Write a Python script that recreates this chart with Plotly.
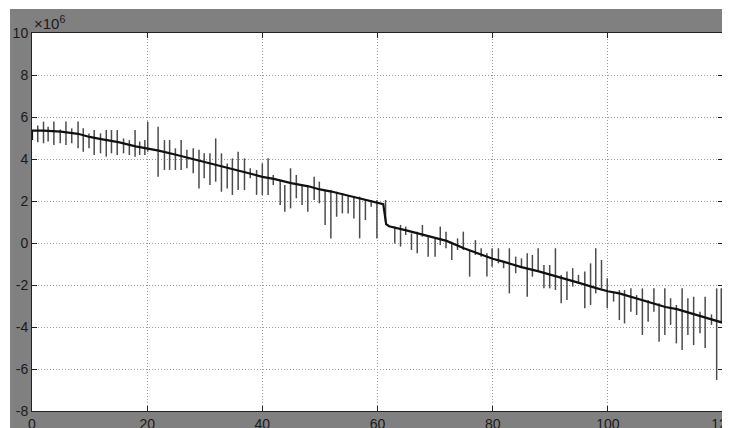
import plotly.graph_objects as go

# ---- data (values in units of 10^6) ----
trend_x = [0, 0, 2, 5, 8, 10, 12, 15, 18, 20, 22, 25, 28, 30, 32, 35, 38, 40, 42, 45, 48, 50,
           52, 55, 58, 60, 61, 61.5, 62, 65, 68, 70, 72, 75, 78, 80, 82, 85, 88, 90, 92, 95,
           98, 100, 102, 105, 108, 110, 112, 115, 118, 120]
trend_y = [4.9, 5.35, 5.35, 5.3, 5.2, 5.05, 4.95, 4.8, 4.6, 4.5, 4.4, 4.2, 4.0, 3.85, 3.7, 3.5,
           3.3, 3.15, 3.05, 2.85, 2.7, 2.55, 2.45, 2.25, 2.05, 1.95, 1.85, 0.9, 0.8, 0.6, 0.4,
           0.25, 0.1, -0.25, -0.55, -0.75, -0.9, -1.15, -1.35, -1.5, -1.65, -1.9, -2.15, -2.3,
           -2.4, -2.65, -2.9, -3.05, -3.15, -3.4, -3.65, -3.8]

spike_x = [1.0, 2.0, 2.8, 3.8, 4.9, 5.9, 6.9, 8.0, 8.9, 9.9, 10.8, 11.9, 12.9, 13.8, 14.8, 15.9,
           16.9, 17.9, 18.7, 19.6,
           20.1, 21.9, 23.0, 23.9, 24.9, 25.9, 26.9, 28.0, 29.0, 29.9, 30.9, 31.9, 32.9, 33.9,
           34.8, 35.8, 36.9, 37.9, 39.0, 40.0,
           41.0, 41.9, 43.1, 43.9, 44.9, 45.9, 46.9, 47.9, 49.0, 49.9, 50.9, 51.9, 52.9, 53.9,
           54.9, 55.9, 56.9, 57.9, 58.9, 59.9, 61.4,
           63.0, 64.0, 64.9, 65.9, 66.9, 67.8, 68.8, 70.0, 70.9, 71.9, 72.9, 73.9, 74.9, 76.0,
           77.0, 78.0, 79.0, 79.9,
           81.0, 81.9, 82.9, 84.0, 85.0, 86.0, 86.9, 87.9, 88.9, 89.9, 90.9, 91.9, 92.9, 93.9,
           94.9, 96.0, 97.0, 97.9, 98.9, 99.9,
           101.0, 102.0, 102.9, 104.0, 105.0, 106.0, 107.0, 108.0, 108.9, 109.9, 110.9, 111.9,
           112.9, 113.9, 114.9, 116.0, 116.9, 118.0, 118.9, 119.7]
spike_hi = [5.6, 5.78, 5.54, 5.78, 5.4, 5.78, 5.46, 5.78, 5.46, 5.22, 5.38, 5.22, 5.38, 5.38,
            5.38, 4.98, 4.9, 5.38, 4.83, 4.9,
            5.78, 5.54, 4.9, 4.9, 4.51, 4.9, 4.44, 4.51, 4.44, 4.27, 4.27, 4.98, 4.27, 3.79,
            4.03, 4.35, 4.03, 3.56, 3.48, 3.79,
            4.03, 3.24, 3.0, 2.76, 3.56, 3.24, 2.76, 2.76, 3.16, 2.92, 2.52, 2.52, 2.44, 2.37,
            2.29, 2.21, 2.21, 2.05, 2.05, 2.05, 2.05,
            0.78, 0.86, 0.78, 0.46, 0.54, 0.86, 0.3, 0.22, 0.78, 0.54, 0.06, 0.22, 0.54, -0.33,
            0.14, -0.25, -0.49, -0.25,
            -0.25, -0.89, -0.25, -0.65, -0.73, -0.49, -0.57, -0.25, -1.05, -1.05, -0.25, -1.52,
            -1.36, -1.2, -1.52, -1.36, -0.97, -0.25, -0.81, -1.68,
            -2.32, -2.24, -2.24, -2.16, -2.48, -2.16, -2.71, -2.16, -2.87, -2.16, -2.63, -2.95,
            -2.16, -2.63, -2.56, -3.27, -2.56, -3.4, -2.16, -2.16]
spike_lo = [4.8, 4.75, 4.83, 4.67, 4.75, 4.67, 4.75, 4.51, 4.35, 4.51, 4.19, 4.27, 4.11, 4.27,
            4.19, 4.27, 4.19, 4.11, 4.19, 4.19,
            4.35, 3.16, 3.48, 3.48, 3.48, 3.48, 3.56, 3.32, 2.6, 3.08, 2.76, 2.92, 2.44, 2.6,
            2.29, 2.52, 2.52, 3.08, 2.29, 2.29,
            2.29, 2.76, 1.81, 1.49, 1.65, 2.13, 1.81, 1.49, 2.05, 1.89, 0.86, 0.22, 1.25, 1.41,
            1.41, 1.17, 0.22, 1.09, 1.73, 0.22, 1.01,
            -0.02, -0.17, 0.38, -0.33, -0.49, 0.3, -0.65, -0.65, -0.1, -0.25, -0.81, -0.33,
            -0.33, -1.6, -0.57, -0.65, -1.6, -1.13,
            -0.97, -1.2, -2.4, -1.44, -1.2, -2.56, -1.6, -1.36, -2.16, -2.16, -2.24, -2.87,
            -2.71, -2.08, -1.92, -3.11, -2.95, -2.4, -2.16, -3.11,
            -2.79, -3.67, -3.83, -3.27, -3.43, -4.38, -3.75, -3.27, -4.7, -4.38, -3.9, -4.78,
            -5.1, -4.38, -4.86, -4.3, -5.0, -3.9, -6.52, -3.75]

x_ticks = [0, 20, 40, 60, 80, 100, 120]
y_ticks = [-8, -6, -4, -2, 0, 2, 4, 6, 8, 10]

# ---- build spike segments ----
sx, sy = [], []
for xv, hv, lv in zip(spike_x, spike_hi, spike_lo):
    sx += [xv, xv, None]
    sy += [hv, lv, None]

fig = go.Figure()
fig.add_trace(go.Scatter(x=sx, y=sy, mode="lines",
                         line=dict(color="#4c4c4c", width=1.5),
                         connectgaps=False, hoverinfo="skip", showlegend=False))
fig.add_trace(go.Scatter(x=trend_x, y=trend_y, mode="lines",
                         line=dict(color="#111111", width=2.2),
                         showlegend=False))

axis_common = dict(
    showline=True, linecolor="#222222", linewidth=1, mirror="allticks",
    ticks="inside", ticklen=5, tickcolor="#222222", tickwidth=1,
    showgrid=True, gridcolor="#9a9a9a", gridwidth=1, griddash="1px,2px",
    zeroline=False, tickfont=dict(family="Liberation Sans, Arial", size=14, color="#1a1a1a"),
    automargin=False, ticklabeloverflow="allow",
)

fig.update_xaxes(range=[0, 120], tickvals=x_ticks, ticktext=[str(v) for v in x_ticks],
                 **axis_common)
fig.update_yaxes(range=[-8, 10], tickvals=y_ticks, ticktext=[str(v) for v in y_ticks],
                 **axis_common)

fig.update_layout(
    width=722, height=420,
    margin=dict(l=24, r=7, t=25, b=17),
    paper_bgcolor="#808080",
    plot_bgcolor="#ffffff",
    shapes=[
        dict(type="rect", xref="paper", yref="paper", x0=-0.1, x1=1.1,
             y0=1.0635, y1=1.2, fillcolor="#ffffff", line=dict(width=0), layer="below"),
        dict(type="rect", xref="paper", yref="paper", x0=-0.1, x1=-0.0318,
             y0=-0.2, y1=1.2, fillcolor="#ffffff", line=dict(width=0), layer="below"),
    ],
    annotations=[
        dict(text="×10<sup>6</sup>", xref="paper", yref="paper", x=0.0, y=0.998,
             xanchor="left", yanchor="bottom", showarrow=False,
             font=dict(family="Liberation Sans, Arial", size=15, color="#1a1a1a")),
    ],
)

fig.write_html("out.html")
